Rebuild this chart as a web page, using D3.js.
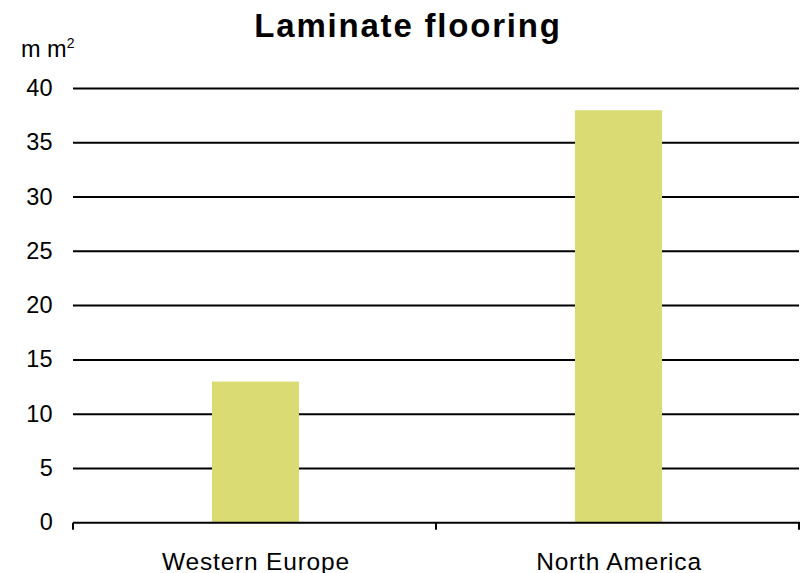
<!DOCTYPE html>
<html>
<head>
<meta charset="utf-8">
<script src="https://cdn.jsdelivr.net/npm/d3@7"></script>
<style>
  html, body { margin: 0; padding: 0; background: #fff; }
  svg { display: block; font-family: "Liberation Sans", Arial, sans-serif; }
</style>
</head>
<body>
<svg id="chart" width="805" height="573"></svg>
<script>
// Laminate flooring consumption by region (million m²)
const categories = ["Western Europe", "North America"];
const values = [13, 38];
const yTicks = [0, 5, 10, 15, 20, 25, 30, 35, 40];

const svg = d3.select("#chart");
const plotLeft = 73, plotRight = 799, plotTop = 88.5, plotBottom = 522.7;

const x = d3.scaleBand().domain(categories).range([plotLeft, plotRight]).paddingInner(0.48).paddingOuter(0.24);
const y = d3.scaleLinear().domain([0, 40]).range([plotBottom, plotTop]);

// horizontal gridlines
svg.append("g").selectAll("line").data(yTicks.filter(d => d > 0)).join("line")
  .attr("x1", plotLeft).attr("x2", plotRight)
  .attr("y1", d => y(d)).attr("y2", d => y(d))
  .attr("stroke", "#000").attr("stroke-width", 2);

// y tick labels
svg.append("g").selectAll("text").data(yTicks).join("text")
  .attr("x", 53).attr("y", d => y(d) + 7.5)
  .attr("text-anchor", "end")
  .attr("font-size", 23.5).attr("letter-spacing", 0.3).attr("fill", "#000")
  .text(d => d);

// bars
const bw = 87;
svg.append("g").selectAll("rect").data(values).join("rect")
  .attr("x", (d, i) => x(categories[i]) + x.bandwidth() / 2 - bw / 2 + 1)
  .attr("width", bw)
  .attr("y", d => y(d))
  .attr("height", d => y(0) - y(d))
  .attr("fill", "#DADB72");

// x axis baseline with category boundary ticks
const bounds = [plotLeft, (plotLeft + plotRight) / 2, plotRight];
svg.append("line").attr("x1", plotLeft).attr("x2", plotRight + 1)
  .attr("y1", plotBottom).attr("y2", plotBottom)
  .attr("stroke", "#000").attr("stroke-width", 2);
svg.append("g").selectAll("line").data(bounds).join("line")
  .attr("x1", d => d).attr("x2", d => d)
  .attr("y1", plotBottom).attr("y2", plotBottom + 7)
  .attr("stroke", "#000").attr("stroke-width", 2);

// category labels
const xc = d3.scalePoint().domain(categories)
  .range([plotLeft + (plotRight - plotLeft) / 4, plotRight - (plotRight - plotLeft) / 4]);
svg.append("g").selectAll("text").data(categories).join("text")
  .attr("x", d => xc(d) + 1.5).attr("y", 569.5)
  .attr("text-anchor", "middle")
  .attr("font-size", 24.5).attr("letter-spacing", 0.8).attr("fill", "#000")
  .text(d => d);

// title
svg.append("text").attr("x", 408).attr("y", 37)
  .attr("text-anchor", "middle")
  .attr("font-size", 33).attr("letter-spacing", 1.8)
  .attr("font-weight", "bold").attr("fill", "#000")
  .text("Laminate flooring");

// unit label
const unit = svg.append("text").attr("x", 21).attr("y", 57)
  .attr("font-size", 23.5).attr("fill", "#000");
unit.append("tspan").text("m m");
unit.append("tspan").attr("font-size", 14).attr("dy", -9).text("2");
</script>
</body>
</html>
